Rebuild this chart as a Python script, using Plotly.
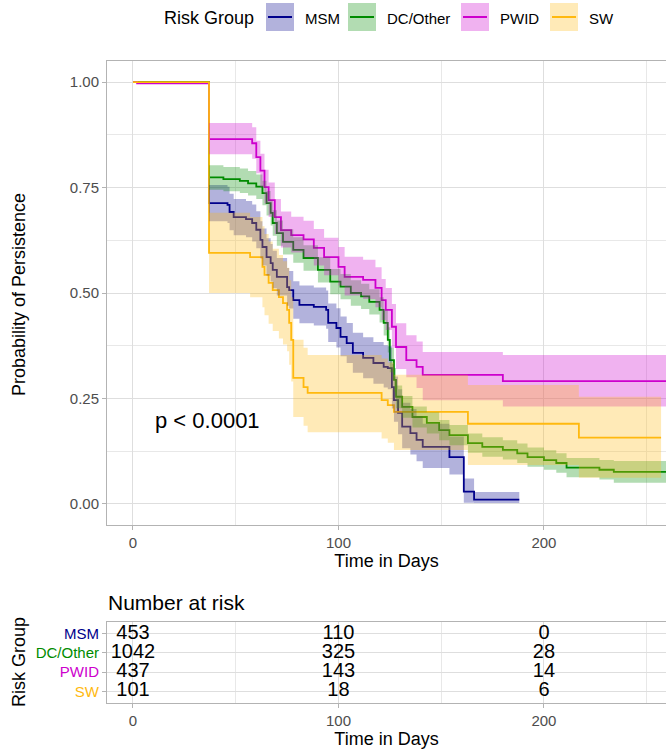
"""Persistence by risk group: Kaplan-Meier curves with a number-at-risk table."""

import plotly.graph_objects as go

GROUPS = ["MSM", "DC/Other", "PWID", "SW"]
COLORS = ["#00008B", "#008B00", "#CD00CD", "#FFB90F"]

# step curves: day, estimate, lower / upper confidence limit
MSM_T = [0, 37, 46, 47, 49, 55, 58, 60, 62, 63, 65, 67, 68, 70, 75, 76, 78, 81, 88, 94,
         95, 99, 101, 104, 107, 112, 117, 122, 124, 126, 127, 129, 131, 135, 138, 141, 154, 161, 166, 188]
MSM_S = [1, .713, .709, .692, .680, .675, .666, .650, .626, .609, .585, .571, .555, .538, .514, .507, .483, .472, .467, .460,
         .429, .417, .396, .381, .358, .346, .334, .325, .322, .277, .246, .216, .183, .168, .152, .135, .111, .029, .010, .010]
MSM_LO = [1, .670, .666, .649, .637, .632, .622, .606, .582, .565, .541, .527, .511, .494, .470, .463, .439, .428, .423, .415,
          .384, .371, .350, .334, .311, .298, .285, .276, .272, .226, .195, .165, .132, .117, .101, .085, .070, .003, .002, .002]
MSM_HI = [1, .756, .752, .735, .723, .718, .710, .694, .670, .653, .630, .616, .600, .583, .559, .552, .528, .518, .513, .506,
          .475, .464, .444, .429, .406, .395, .384, .376, .374, .332, .302, .272, .240, .225, .208, .190, .160, .060, .028, .028]

DC_T = [0, 37, 44, 52, 56, 60, 63, 65, 67, 68, 70, 73, 78, 83, 90, 96, 101, 106, 111, 115,
        120, 122, 124, 125, 127, 128, 131, 136, 143, 149, 154, 163, 170, 180, 187, 192, 200, 206, 211, 227, 234, 265]
DC_S = [1, .774, .770, .766, .760, .752, .737, .713, .690, .666, .642, .621, .602, .583, .555, .527, .515, .500, .492, .479,
        .460, .429, .389, .341, .294, .254, .230, .206, .192, .175, .163, .144, .135, .128, .120, .111, .104, .097, .086, .081, .076, .076]
DC_LO = [1, .745, .741, .737, .731, .723, .708, .684, .660, .636, .612, .591, .572, .553, .525, .497, .485, .470, .462, .449,
         .430, .399, .359, .312, .266, .227, .204, .181, .167, .151, .139, .121, .112, .105, .097, .088, .081, .074, .063, .058, .050, .050]
DC_HI = [1, .803, .799, .795, .789, .781, .766, .742, .720, .696, .672, .651, .632, .613, .585, .557, .545, .530, .522, .509,
         .490, .459, .419, .370, .322, .281, .256, .231, .217, .199, .187, .167, .158, .151, .143, .134, .127, .120, .109, .104, .102, .102]

PWID_T = [0, 2, 37, 58, 60, 62, 64, 66, 69, 72, 77, 83, 88, 93, 100, 103, 112, 118, 121, 123, 126, 128, 133, 138, 141, 180, 265]
PWID_S = [1, .997, .865, .855, .822, .790, .751, .720, .680, .649, .637, .627, .607, .585, .562, .538, .531, .512, .483, .460,
          .420, .372, .341, .325, .306, .291, .291]
PWID_LO = [1, .997, .829, .818, .784, .751, .712, .680, .640, .608, .596, .585, .565, .542, .518, .494, .486, .466, .436, .412,
           .370, .320, .300, .275, .246, .231, .231]
PWID_HI = [1, .997, .903, .893, .861, .830, .792, .762, .723, .693, .681, .671, .652, .631, .609, .586, .579, .561, .533, .512,
           .474, .428, .400, .385, .360, .353, .353]

SW_T = [0, 37, 57, 63, 64, 66, 68, 71, 73, 75, 76, 77, 78, 83, 85, 121, 124, 127, 163, 217, 257]
SW_S = [1, .595, .585, .562, .543, .524, .507, .490, .476, .460, .429, .389, .299, .277, .263, .246, .234, .218, .190, .157, .157]
SW_LO = [1, .500, .490, .466, .447, .427, .410, .392, .378, .362, .330, .290, .206, .185, .170, .155, .145, .128, .092, .062, .062]
SW_HI = [1, .690, .680, .658, .640, .622, .605, .590, .575, .560, .530, .490, .389, .370, .353, .345, .335, .306, .282, .254, .254]

# number at risk
RISK_T = [0, 100, 200]
RISK_MSM = [453, 110, 0]
RISK_DC = [1042, 325, 28]
RISK_PWID = [437, 143, 14]
RISK_SW = [101, 18, 6]

PVAL_TEXT = "p < 0.0001"

W, H = 666, 750
FONT = "Liberation Sans, Arial, sans-serif"
GRID = "#DEDEDE"
BORDER = "#B3B3B3"
TICKTXT = "#4D4D4D"


def rgba(hex_color, alpha):
    h = hex_color.lstrip("#")
    r, g, b = (int(h[i:i + 2], 16) for i in (0, 2, 4))
    return f"rgba({r},{g},{b},{alpha})"


def px_x(px):
    return px / W


def px_y(py):
    return 1 - py / H


curves = [
    (MSM_T, MSM_S, MSM_LO, MSM_HI),
    (DC_T, DC_S, DC_LO, DC_HI),
    (PWID_T, PWID_S, PWID_LO, PWID_HI),
    (SW_T, SW_S, SW_LO, SW_HI),
]
risk = [RISK_MSM, RISK_DC, RISK_PWID, RISK_SW]

fig = go.Figure()

# lines first, ribbons on top (as ggsurvplot draws them)
for name, color, (t, s, lo, hi) in zip(GROUPS, COLORS, curves):
    fig.add_trace(go.Scatter(x=t, y=s, mode="lines", name=name, showlegend=False,
                             line=dict(color=color, width=1.8, shape="hv"), hoverinfo="skip"))
for name, color, (t, s, lo, hi) in zip(GROUPS, COLORS, curves):
    fig.add_trace(go.Scatter(x=t, y=lo, mode="lines", showlegend=False, hoverinfo="skip",
                             line=dict(width=0, shape="hv")))
    fig.add_trace(go.Scatter(x=t, y=hi, mode="lines", showlegend=False, hoverinfo="skip",
                             line=dict(width=0, shape="hv"), fill="tonexty", fillcolor=rgba(color, 0.3)))

# risk table
for name, counts in zip(GROUPS, risk):
    fig.add_trace(go.Scatter(x=RISK_T, y=[name] * len(RISK_T), mode="text", text=[str(c) for c in counts],
                             textfont=dict(size=20, color="black", family=FONT), showlegend=False,
                             hoverinfo="skip", xaxis="x2", yaxis="y2"))

axis_common = dict(
    range=[-12.65, 259.4], tickvals=[0, 100, 200], ticks="outside", ticklen=4, tickcolor=BORDER,
    showgrid=True, gridcolor=GRID, gridwidth=1, zeroline=False,
    minor=dict(tickvals=[50, 150, 250], showgrid=True, gridcolor="#E8E8E8", gridwidth=0.6, ticks=""),
    showline=True, mirror=True, linecolor=BORDER, linewidth=1,
    tickfont=dict(size=15, color=TICKTXT, family=FONT),
    domain=[px_x(107), 1],
)

fig.update_layout(
    width=W, height=H,
    margin=dict(l=0, r=0, t=0, b=0),
    plot_bgcolor="white", paper_bgcolor="white",
    font=dict(family=FONT, color="black"),
    xaxis=dict(axis_common, anchor="y",
               title=dict(text="Time in Days", font=dict(size=18), standoff=4)),
    yaxis=dict(domain=[px_y(525), px_y(61)], range=[-0.05, 1.05],
               tickvals=[0, 0.25, 0.5, 0.75, 1], ticktext=["0.00", "0.25", "0.50", "0.75", "1.00"],
               ticks="outside", ticklen=4, tickcolor=BORDER,
               showgrid=True, gridcolor=GRID, gridwidth=1, zeroline=False,
               minor=dict(tickvals=[0.125, 0.375, 0.625, 0.875], showgrid=True,
                          gridcolor="#E8E8E8", gridwidth=0.6, ticks=""),
               showline=True, mirror=False, linecolor=BORDER, linewidth=1,
               tickfont=dict(size=15, color=TICKTXT, family=FONT), anchor="x"),
    xaxis2=dict(axis_common, anchor="y2",
                title=dict(text="Time in Days", font=dict(size=18), standoff=4)),
    yaxis2=dict(domain=[px_y(703), px_y(622)], type="category",
                categoryorder="array", categoryarray=GROUPS[::-1], range=[-0.6, 3.6],
                tickvals=GROUPS,
                ticktext=[f'<span style="color:{c}">{g}</span>' for g, c in zip(GROUPS, COLORS)],
                ticks="outside", ticklen=4, tickcolor=BORDER,
                showgrid=True, gridcolor=GRID, gridwidth=1, zeroline=False,
                showline=True, mirror=False, linecolor=BORDER, linewidth=1,
                tickfont=dict(size=15, family=FONT), anchor="x2"),
)

annotations = [
    dict(text=PVAL_TEXT, x=9.7, y=0.197, xref="x", yref="y", xanchor="left", yanchor="middle",
         showarrow=False, font=dict(size=22, color="black")),
    dict(text="Probability of Persistence", x=px_x(19), y=px_y(295), xref="paper", yref="paper",
         textangle=-90, showarrow=False, xanchor="center", yanchor="middle", font=dict(size=18)),
    dict(text="Risk Group", x=px_x(19), y=px_y(662), xref="paper", yref="paper",
         textangle=-90, showarrow=False, xanchor="center", yanchor="middle", font=dict(size=18)),
    dict(text="Number at risk", x=px_x(106), y=px_y(602), xref="paper", yref="paper",
         xanchor="left", yanchor="middle", showarrow=False, font=dict(size=21)),
    dict(text="Risk Group", x=px_x(162), y=px_y(18), xref="paper", yref="paper",
         xanchor="left", yanchor="middle", showarrow=False, font=dict(size=18)),
]

# legend keys in the ggplot style: filled square with the line across it
shapes = []
key_left = [266, 348, 461, 550]
for name, color, k in zip(GROUPS, COLORS, key_left):
    shapes.append(dict(type="rect", xref="paper", yref="paper", x0=px_x(k), x1=px_x(k + 28),
                       y0=px_y(31), y1=px_y(3), fillcolor=rgba(color, 0.3), line=dict(width=0)))
    shapes.append(dict(type="line", xref="paper", yref="paper", x0=px_x(k + 2), x1=px_x(k + 26),
                       y0=px_y(17), y1=px_y(17), line=dict(color=color, width=2)))
    annotations.append(dict(text=name, x=px_x(k + 37), y=px_y(18), xref="paper", yref="paper",
                            xanchor="left", yanchor="middle", showarrow=False,
                            font=dict(size=15, color="black")))

fig.update_layout(annotations=annotations, shapes=shapes)

# drop the page's default body margin so the 666x750 figure fills the window exactly
fig.write_html(
    "out.html",
    config={"displayModeBar": False},
    post_script="document.body.style.margin='0';document.body.style.overflow='hidden';",
)
